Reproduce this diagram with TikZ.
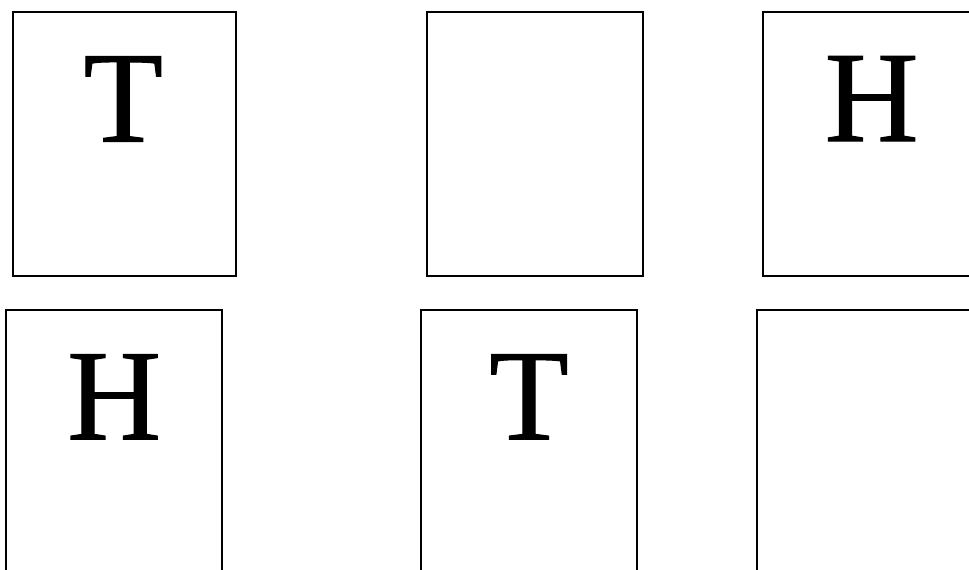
\documentclass[tikz,border=0pt]{standalone}
\usepackage{fontspec}
\setmainfont{Liberation Serif}
\newfontfamily\cardfont[FakeBold=0.8]{Liberation Serif}
\begin{document}
\begin{tikzpicture}[x=1pt,y=-1pt,
  card/.style={draw=black,line width=2pt,fill=none,inner sep=0pt,outer sep=0pt,minimum height=263.5pt},
  letter/.style={anchor=base,inner sep=0pt,font=\cardfont\fontsize{130}{130}\selectfont}]
\useasboundingbox (0,0) rectangle (969,570);
\begin{scope}
\clip (0,0) rectangle (969,570);
\node[card,minimum width=222.5pt] (c1) at (124.3,144.2) {};
\node[card,minimum width=216pt] (c2) at (535.3,144.2) {};
\node[card,minimum width=216.7pt] (c3) at (871.7,144.2) {};
\node[card,minimum width=216.3pt] (c4) at (114.2,441.8) {};
\node[card,minimum width=216pt] (c5) at (528.7,441.8) {};
\node[card,minimum width=216pt] (c6) at (864.7,441.8) {};
\end{scope}
\node[letter] (t1) at (123.3,141.6) {T};
\node[letter] (h3) at (871.7,141.2) {H};
\node[letter] (h4) at (114.2,439.4) {H};
\node[letter] (t5) at (529,439.4) {T};
\end{tikzpicture}
\end{document}
